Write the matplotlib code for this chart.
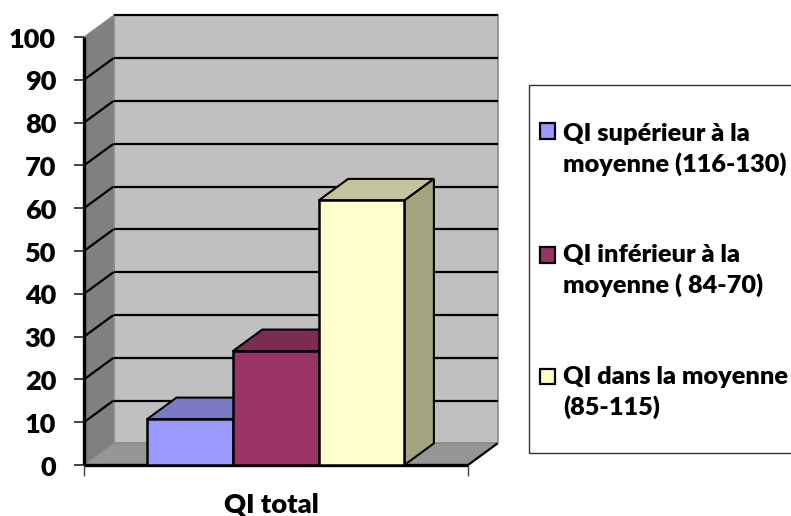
import matplotlib
matplotlib.use("Agg")
import matplotlib.pyplot as plt
from matplotlib.patches import Polygon, Rectangle

plt.rcParams['font.family'] = ['Lato', 'DejaVu Sans']

categories = ["QI total"]
series_labels = ["QI supérieur à la\nmoyenne (116-130)",
                 "QI inférieur à la\nmoyenne ( 84-70)",
                 "QI dans la moyenne\n(85-115)"]
series_values = [10.7, 26.6, 61.8]
y_ticks = [0, 10, 20, 30, 40, 50, 60, 70, 80, 90, 100]

front_colors = ["#9999FF", "#993366", "#FFFFCC"]
top_colors = ["#7A7AC4", "#7D2A54", "#C4C49C"]
side_colors = ["#6B6BB2", "#6B2347", "#A3A380"]

W, H = 791, 516
fig = plt.figure(figsize=(W / 100, H / 100), dpi=100, facecolor="white")
# Front plane of the pseudo-3D box
L, R, Y0, Y100 = 84, 468, 465, 37
ax = fig.add_axes([L / W, 1 - Y0 / H, (R - L) / W, (Y0 - Y100) / H])
ax.set_xlim(0, 1)
ax.set_ylim(0, 100)
ax.axis("off")

dx = 29.5 / (R - L)
dy = 21.6 / 4.28
ytop = y_ticks[-1]


def poly(pts, fc, ec="none", lw=0, z=1):
    ax.add_patch(Polygon(pts, closed=True, facecolor=fc, edgecolor=ec, linewidth=lw,
                         zorder=z, clip_on=False, joinstyle="miter"))


def line(xs, ys, color="black", lw=1.5, z=2):
    ax.plot(xs, ys, color=color, lw=lw, zorder=z, clip_on=False, solid_capstyle="butt")


# Walls and floor
poly([(dx, dy), (1 + dx, dy), (1 + dx, ytop + dy), (dx, ytop + dy)], "#C0C0C0", "#8A8A8A", 1.2)
poly([(0, 0), (dx, dy), (dx, ytop + dy), (0, ytop)], "#808080", "#8A8A8A", 0.8)
poly([(0, 0), (1, 0), (1 + dx, dy), (dx, dy)], "#969696", "#8A8A8A", 0.8)

# Gridlines
for t in y_ticks[1:]:
    if t < ytop:
        line([0, dx], [t, t + dy], lw=1.6)
    line([dx, 1 + dx], [t + dy, t + dy], lw=1.6)

# Axes lines and ticks
line([0, 0], [0, ytop], lw=2.4, z=6)
line([0, 1], [0, 0], lw=2.4, z=6)
line([1, 1 + dx], [0, dy], lw=1.6, z=6)
line([0, 0], [0, -2.6], lw=1.0, color="#444444", z=6)
line([1, 1], [0, -2.6], lw=1.0, color="#444444", z=6)
for t in y_ticks:
    line([-10 / (R - L), 0], [t, t], lw=1.2, color="#222222", z=6)
    ax.text(-28 / (R - L), t - 0.6, str(t), ha="right", va="center",
            fontsize=19.5, fontweight="heavy", color="black")

# Bars
bar_w = 85.8 / (R - L)
x_start = 63 / (R - L)
for i, v in enumerate(series_values):
    x0 = x_start + i * bar_w
    x1 = x0 + bar_w
    z = 10 + i
    poly([(x0, v), (x1, v), (x1 + dx, v + dy), (x0 + dx, v + dy)], top_colors[i], "black", 1.5, z)
    poly([(x1, 0), (x1 + dx, dy), (x1 + dx, v + dy), (x1, v)], side_colors[i], "black", 1.5, z)
    poly([(x0, 0), (x1, 0), (x1, v), (x0, v)], front_colors[i], "black", 1.8, z)

# Category label
ax.text((271.5 - L) / (R - L), -9.2, categories[0], ha="center", va="center", fontsize=19.6,
        fontweight="heavy", color="black")

# Legend box (figure pixel coordinates)
def fx(p):
    return p / W


def fy(p):
    return 1 - p / H


fig.add_artist(Rectangle((fx(529), fy(453)), (W + 5 - 529) / W, (453 - 85) / H,
                         transform=fig.transFigure, facecolor="white",
                         edgecolor="#333333", linewidth=1.0))
swatch_y = [131, 255, 376]
text_y = [149.5, 270.5, 392.5]
for lab, c, sy, ty in zip(series_labels, front_colors, swatch_y, text_y):
    fig.add_artist(Rectangle((fx(540), fy(sy + 7.5)), 15 / W, 15 / H, transform=fig.transFigure,
                             facecolor=c, edgecolor="black", linewidth=1.6))
    fig.text(fx(563), fy(ty), lab, ha="left", va="center", fontsize=18.2,
             fontweight="heavy", color="black", linespacing=1.36)

fig.savefig("out.png", dpi=100)
